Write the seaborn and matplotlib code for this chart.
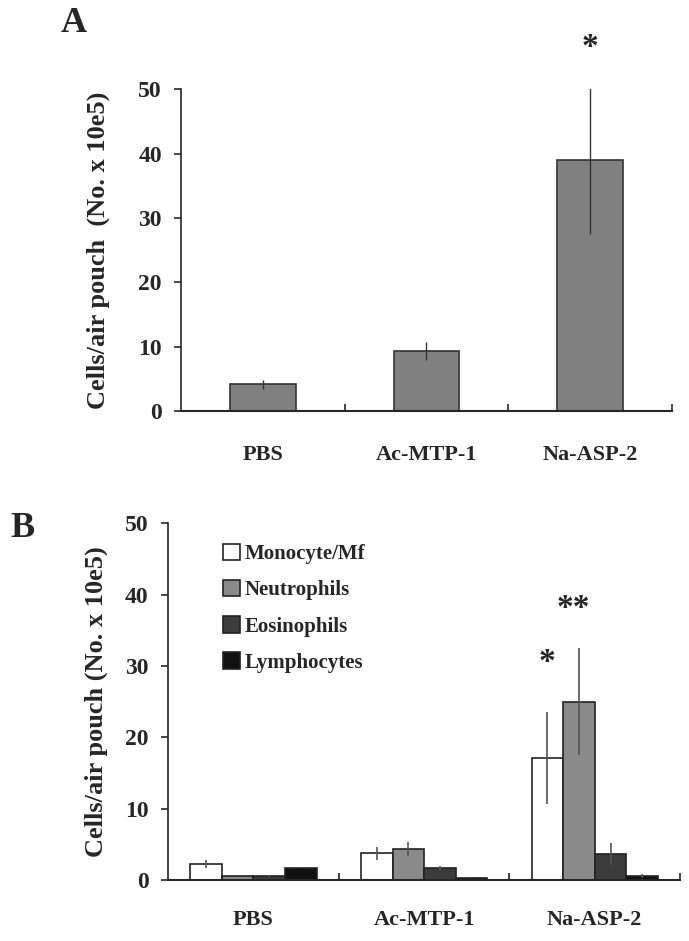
import numpy as np
import pandas as pd
import matplotlib
matplotlib.use("Agg")
import matplotlib.pyplot as plt
import seaborn as sns

# ----------------------- Data -----------------------

groups = ["PBS", "Ac-MTP-1", "Na-ASP-2"]

# Panel A: total cells
total_mean = [4.2, 9.4, 39.0]
total_err = [0.7, 1.4, 11.5]

# Panel B: cell types
cell_types = ["Monocyte/Mf", "Neutrophils", "Eosinophils", "Lymphocytes"]
mono_mean = [2.2, 3.7, 17.1]
mono_err = [0.6, 0.9, 6.4]
neut_mean = [0.6, 4.3, 25.0]
neut_err = [0.1, 1.0, 7.5]
eos_mean = [0.5, 1.6, 3.6]
eos_err = [0.1, 0.4, 1.5]
lymph_mean = [1.7, 0.3, 0.5]
lymph_err = [0.1, 0.05, 0.3]

type_colors = ["#ffffff", "#8a8a8a", "#3c3c3c", "#111111"]

# ----------------------- Style -----------------------

sns.set_style("ticks")
plt.rcParams["font.family"] = ["Liberation Serif", "DejaVu Serif"]
plt.rcParams["font.weight"] = "bold"

fig = plt.figure(figsize=(6.89, 9.41), dpi=100)


def style_axis(ax, ylabel, labelpad):
    sns.despine(ax=ax)
    ax.set_ylim(0, 50)
    ax.set_yticks([0, 10, 20, 30, 40, 50])
    ax.set_xlim(-0.5, 2.5)
    ax.set_xlabel("")
    ax.set_ylabel(ylabel, fontsize=19, fontweight="bold", labelpad=labelpad)
    for lab in ax.get_yticklabels():
        lab.set_fontweight("bold")
    ax.tick_params(axis="y", direction="out", length=5, width=1.2, labelsize=17, pad=9)
    ax.tick_params(axis="x", which="major", length=0, labelsize=16, pad=24)
    ax.set_xticks([0, 1, 2])
    ax.set_xticklabels(groups, fontweight="bold")
    ax.set_xticks([0.5, 1.5, 2.5], minor=True)
    ax.tick_params(axis="x", which="minor", direction="in", length=5, width=1.2)
    ax.spines["left"].set_linewidth(1.2)
    ax.spines["bottom"].set_linewidth(1.5)


# ----------------------- Panel A -----------------------

axA = fig.add_axes([0.263, 0.563, 0.712, 0.342])
dfA = pd.DataFrame({"group": groups, "value": total_mean})
sns.barplot(data=dfA, x="group", y="value", color="#808080", saturation=1,
            width=0.4, edgecolor="#333333", linewidth=1.2, errorbar=None, ax=axA)
for patch, m, e in zip(axA.patches, total_mean, total_err):
    xc = patch.get_x() + patch.get_width() / 2
    axA.errorbar(xc, m, yerr=e, fmt="none", ecolor="#333333", elinewidth=1.0, capsize=0)
style_axis(axA, "Cells/air pouch  (No. x 10e5)", 20)
axA.text(2, 56.5, "*", ha="center", va="center", fontsize=24, fontweight="bold", clip_on=False)
fig.text(0.088, 0.975, "A", fontsize=26, fontweight="bold", va="center")

# ----------------------- Panel B -----------------------

axB = fig.add_axes([0.244, 0.065, 0.743, 0.379])
dfB = pd.DataFrame({
    "group": groups * 4,
    "type": np.repeat(cell_types, 3),
    "value": mono_mean + neut_mean + eos_mean + lymph_mean,
    "err": mono_err + neut_err + eos_err + lymph_err,
})
sns.barplot(data=dfB, x="group", y="value", hue="type", hue_order=cell_types,
            palette=type_colors, saturation=1, width=0.74, edgecolor="#222222",
            linewidth=1.2, errorbar=None, ax=axB)
bar_patches = axB.patches[:12]
for patch, m, e in zip(bar_patches, dfB["value"], dfB["err"]):
    xc = patch.get_x() + patch.get_width() / 2
    axB.errorbar(xc, m, yerr=e, fmt="none", ecolor="#555555", elinewidth=1.2, capsize=0)
style_axis(axB, "Cells/air pouch (No. x 10e5)", 12)
axB.tick_params(axis="x", which="major", pad=22)

leg = axB.legend(loc="upper left", bbox_to_anchor=(0.07, 0.995), frameon=False,
                 prop={"weight": "bold", "size": 15}, handlelength=0.85,
                 handleheight=0.85, handletextpad=0.2, labelspacing=0.75)

xs = [p.get_x() + p.get_width() / 2 for p in bar_patches]
axB.text(xs[2], 30.5, "*", ha="center", va="center", fontsize=24, fontweight="bold")
axB.text(xs[5] - 0.03, 38.0, "**", ha="center", va="center", fontsize=24, fontweight="bold")
fig.text(0.015, 0.438, "B", fontsize=26, fontweight="bold", va="center")

fig.savefig("out.png", dpi=100)
